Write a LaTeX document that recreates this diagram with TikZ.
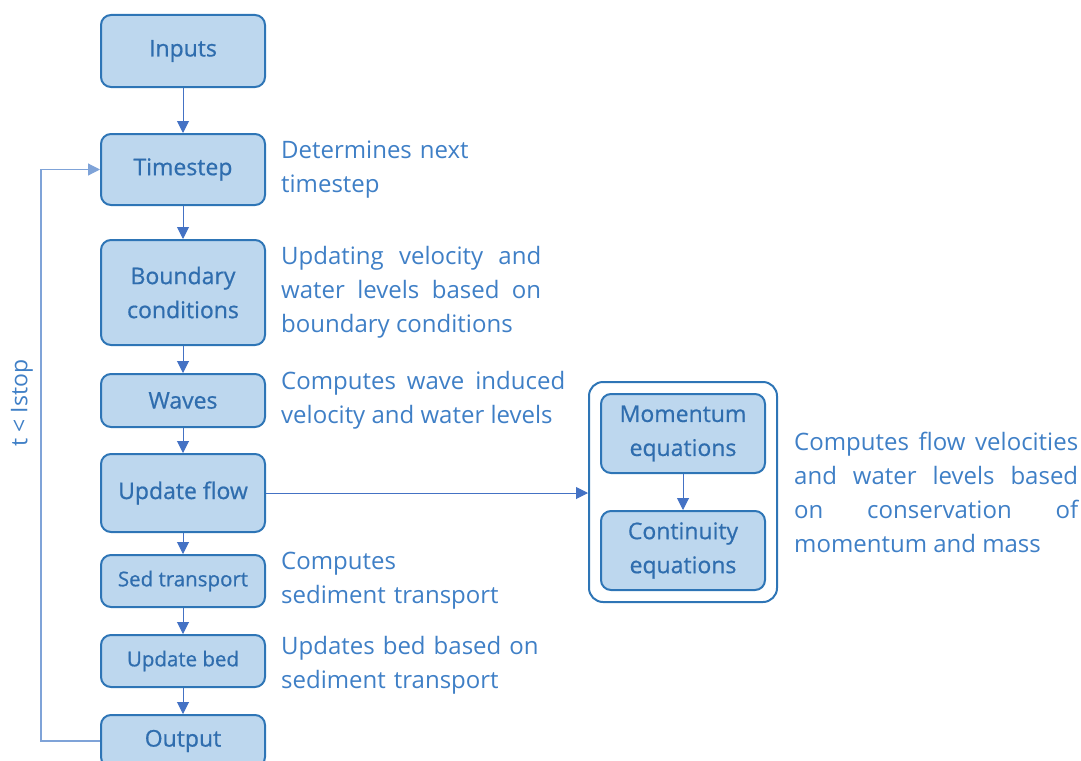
\documentclass[tikz,border=0pt]{standalone}
\usepackage{fontspec}
\setmainfont{Open Sans}
\newfontfamily\boxfont{Open Sans}[FakeBold=0.7]
\usepackage{xcolor}
\usetikzlibrary{arrows.meta}
\usetikzlibrary{positioning}
\usetikzlibrary{fit}

\definecolor{boxline}{HTML}{2E75B6}
\definecolor{boxfill}{HTML}{BDD7EE}
\definecolor{boxtext}{HTML}{2F6DAE}
\definecolor{notetext}{HTML}{3F7FC6}
\definecolor{arrowcol}{HTML}{4472C4}
\definecolor{loopcol}{HTML}{7FA3D8}

\begin{document}
\hyphenpenalty=10000
\begin{tikzpicture}[x=1pt,y=-1pt,>={Triangle[length=12pt,width=12pt]},
                    step box/.style={rectangle,rounded corners=10pt,draw=boxline,line width=2pt,
                      fill=boxfill,text=boxtext,minimum width=164pt,align=center,
                      font=\boxfont\fontsize{23}{34}\selectfont},
                    note/.style={inner sep=0pt,text=notetext,align=justify,
                      font=\fontsize{24}{34}\selectfont},
                    flow/.style={->,color=arrowcol,line width=1pt}]
\useasboundingbox (0,0) rectangle (1081,760);

\node[step box, minimum height=72pt] (inputs) at (183,51) {Inputs};
\node[step box, minimum height=71pt] (timestep) [below=45pt of inputs] {Timestep};
\node[step box, minimum height=105pt] (bc) [below=33pt of timestep] {Boundary\\conditions};
\node[step box, minimum height=53pt] (waves) [below=27pt of bc] {Waves};
\node[step box, minimum height=78pt] (upflow) [below=25pt of waves] {Update flow};
\node[step box, minimum height=52pt, font=\boxfont\fontsize{20.5}{30}\selectfont] (sed) [below=21pt of upflow] {Sed transport};
\node[step box, minimum height=52pt, font=\boxfont\fontsize{20.5}{30}\selectfont] (bed) [below=26pt of sed] {Update bed};
\node[step box, minimum height=52pt] (output) [below=26pt of bed] {Output};

\node[step box, minimum height=79pt] (momentum) at (683,433.5) {Momentum\\equations};
\node[step box, minimum height=79pt] (continuity) [below=36pt of momentum] {Continuity\\equations};
\node[rectangle,rounded corners=14pt,draw=boxline,line width=2pt,inner sep=11pt,
      fit=(momentum) (continuity)] (solver) {};

\node[note, text width=220pt, align=left, right=15pt of timestep] (tsnote) {Determines next\\timestep};
\node[note, text width=260pt, right=15pt of bc] (bcnote) {Updating velocity and\linebreak water levels based on\linebreak boundary conditions};
\node[note, text width=284pt, right=15pt of waves] (wavenote) {Computes wave induced\linebreak velocity and water levels};
\node[note, text width=240pt, align=left, right=15pt of sed] (sednote) {Computes\\sediment transport};
\node[note, text width=260pt, align=left, right=15pt of bed, yshift=-4pt] (bednote) {Updates bed based on\\sediment transport};
\node[note, text width=284pt, right=16pt of solver] (solvernote) {Computes flow velocities\linebreak and water levels based\linebreak on conservation of\linebreak momentum and mass};

\coordinate (loopx) at (41,0);
\coordinate (solverin) at (solver.west |- upflow.east);

\path[flow]
  (inputs) edge (timestep)
  (timestep) edge (bc)
  (bc) edge (waves)
  (waves) edge (upflow)
  (upflow) edge (sed)
  (sed) edge (bed)
  (bed) edge (output)
  (momentum) edge (continuity);
\draw[flow] (upflow.east) -- (solverin);

\draw[->,color=loopcol,line width=1.2pt] (output.west) -- (output.west -| loopx) -- (timestep.west -| loopx) -- (timestep.west);
\node[text=notetext,rotate=90,font=\fontsize{23}{26}\selectfont] (loopnote) at (22,403) {t < Istop};

\end{tikzpicture}
\end{document}
